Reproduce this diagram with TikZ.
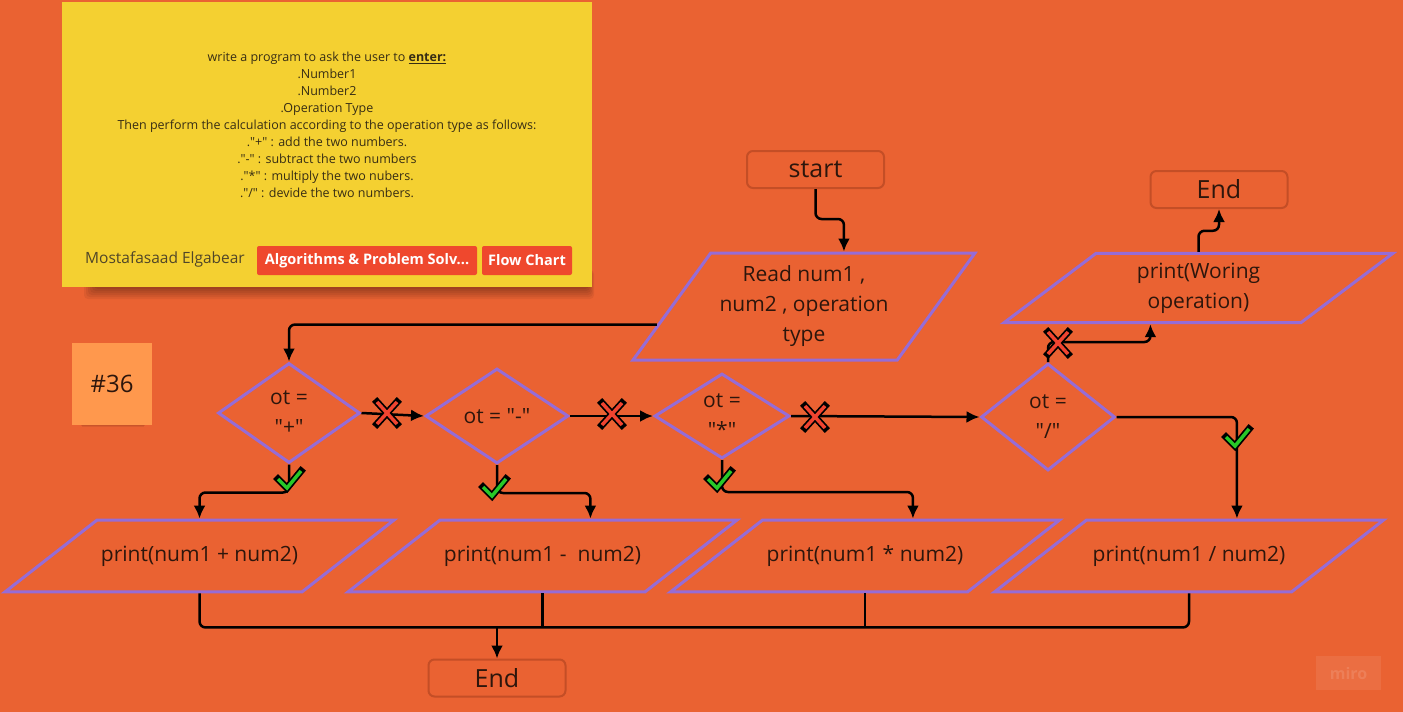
\documentclass[tikz,border=0pt]{standalone}
\usepackage{fontspec}
\setmainfont{Open Sans}[Ligatures=TeXOff]
\usetikzlibrary{shapes,arrows,arrows.meta,calc}

\definecolor{board}{RGB}{234,98,50}
\definecolor{sticky}{RGB}{244,208,49}
\definecolor{peach}{RGB}{255,152,77}
\definecolor{lilac}{RGB}{150,108,214}
\definecolor{rim}{RGB}{196,78,38}
\definecolor{ink}{RGB}{45,22,12}
\definecolor{notetext}{RGB}{55,45,20}
\definecolor{authorgray}{RGB}{80,70,40}
\definecolor{tagred}{RGB}{239,72,45}
\definecolor{crossred}{RGB}{240,68,48}
\definecolor{tickgreen}{RGB}{40,200,40}

% red cross on a "no" branch
\newcommand{\crossmark}[1]{%
  \begin{scope}[shift={(#1)}]
    \draw[black, line width=7pt, line cap=rect] (-10,-11) -- (10,11) (-10,11) -- (10,-11);
    \draw[crossred, line width=3.5pt] (-10,-11) -- (10,11) (-10,11) -- (10,-11);
  \end{scope}}
% green tick on a "yes" branch
\newcommand{\tickmark}[1]{%
  \begin{scope}[shift={(#1)}]
    \draw[black, line width=7pt, line cap=rect] (-9,-9) -- (0,0) -- (14,-17);
    \draw[tickgreen, line width=3.5pt] (-9,-9) -- (0,0) -- (14,-17);
  \end{scope}}

\begin{document}
\begin{tikzpicture}[x=1pt, y=-1pt]
        \tikzstyle{decision} = [diamond, draw=lilac, line width=3pt, inner sep=0pt, text=ink, align=center, font=\fontsize{21}{30}\selectfont]
        \tikzstyle{io} = [trapezium, trapezium left angle=38, trapezium right angle=142, trapezium stretches body, draw=lilac, line width=3pt, inner xsep=0pt, minimum width=389pt, text=ink, align=center, font=\fontsize{21}{30}\selectfont]
        \tikzstyle{printbox} = [io, text height=15.7pt, text depth=5.2pt, inner ysep=25.5pt]
        \tikzstyle{terminal} = [rectangle, rounded corners=6pt, draw=rim, line width=2pt, minimum width=137pt, minimum height=37pt, text=ink, font=\fontsize{25}{30}\selectfont]
        \tikzstyle{tag} = [rectangle, fill=tagred, rounded corners=2pt, text=white, minimum height=29pt, inner sep=0pt, font=\fontsize{14.5}{17}\selectfont\bfseries]
        \tikzstyle{line} = [draw, -{Latex[length=13pt, width=12pt]}, line width=2.5pt, rounded corners=6pt]

    \useasboundingbox (0,0) rectangle (1403,712);
    \fill[board] (0,0) rectangle (1403,712);

    % sticky notes
    \foreach \s in {1,...,6}
        \fill[black, opacity=0.06, rounded corners=4pt] (96-\s*2,270) rectangle (588+\s,287+\s*2);
    \node [fill=sticky, minimum width=530pt, minimum height=285pt] (note) at (327,144.5) {};
    \node [text=notetext, align=center, font=\fontsize{12.5}{17}\selectfont] (task) at (327,125) {write a program to ask the user to \textbf{\underline{enter:}}\\ .Number1\\ .Number2\\ .Operation Type\\ Then perform the calculation according to the operation type as follows:\\ ."+" : add the two numbers.\\ ."-" : subtract the two numbers\\ ."*" : multiply the two nubers.\\ ."/" : devide the two numbers.};
    \node [text=authorgray, font=\fontsize{15.5}{18}\selectfont] (author) at (165,259) {Mostafasaad Elgabear};
    \node [tag, minimum width=220pt] (topic) at (367,260.5) {Algorithms \& Problem Solv...};
    \node [tag, minimum width=90pt] (kind) at (527,260.5) {Flow Chart};

    \foreach \s in {1,...,4}
        \fill[black, opacity=0.07] (78+\s,418) rectangle (148-\s,423+\s);
    \node [fill=peach, minimum width=80pt, minimum height=82pt, text=ink, font=\fontsize{24}{26}\selectfont] (badge) at (112,384) {\#36};

    % flow chart
    \node [terminal] (start) at (815.5,169.5) {start};
    \node [io, trapezium left angle=54, trapezium right angle=126, minimum width=342pt, inner ysep=13pt] (read) at (804,306.5) {Read num1 ,\\ num2 , operation\\ type};
    \node [terminal] (end top) at (1219,189.5) {End};
    \node [io, trapezium left angle=37, trapezium right angle=143, inner ysep=9.5pt] (woring) at (1198.5,288) {print(Woring\\ operation)};

    \node [decision, minimum width=142pt, minimum height=100pt] (plus) at (289,413) {ot =\\ "+"};
    \node [decision, minimum width=143pt, minimum height=95pt] (minus) at (497,416) {ot = "-"};
    \node [decision, minimum width=135pt, minimum height=85pt] (times) at (722,416) {ot =\\ "*"};
    \node [decision, minimum width=134pt, minimum height=107pt] (divide) at (1048,417) {ot =\\ "/"};

    \node [printbox] (print plus) at (199.5,556) {print(num1 + num2)};
    \node [printbox] (print minus) at (542.5,556) {print(num1 -\ \ num2)};
    \node [printbox] (print times) at (865,556) {print(num1 * num2)};
    \node [printbox] (print divide) at (1189,556) {print(num1 / num2)};
    \node [terminal] (end bottom) at (497,678) {End};

    \path [line] (start.south) -- ++(0,30) -| (read.top side);
    \path [line] (read.187) -| (plus.north);
    \path [line] (plus.east) -- (minus.west);
    \path [line] (minus.east) -- (times.west);
    \path [line] (times.east) -- (divide.west);
    \path [line] (divide.north) -- ++(0,-20) -| (woring.bottom side);
    \path [line] (woring.center |- woring.north) -- ++(0,-21) -| (end top.south);
    \path [line] (divide.east) -| (print divide.top side);
    \path [line] (plus.south) -- ++(0,28) -| (print plus.north);
    \path [line] (minus.south) -- ++(0,28) -| (print minus.top side);
    \path [line] (times.south) -- ++(0,32) -| (print times.top side);

    \coordinate (merge) at ($(print plus.south)+(0,34)$);
    \draw [line width=2.5pt, rounded corners=6pt] (print plus.south) |- (merge -| print divide.south) -- (print divide.south);
    \draw [line width=2.5pt] (print minus.south) -- (print minus.south |- merge);
    \draw [line width=2.5pt] (print times.south) -- (print times.south |- merge);
    \path [line] (end bottom.north |- merge) -- (end bottom.north);

    \crossmark{387,413}
    \crossmark{612,414}
    \crossmark{815,417}
    \crossmark{1058,343}
    \tickmark{287,488}
    \tickmark{492,496}
    \tickmark{717,488}
    \tickmark{1235,446}

    \node [fill=white, fill opacity=0.08, text=white, text opacity=0.12, minimum width=65pt, minimum height=34pt, font=\fontsize{16}{18}\selectfont\bfseries] (miro) at (1348.5,673) {miro};
    \end{tikzpicture}
\end{document}
